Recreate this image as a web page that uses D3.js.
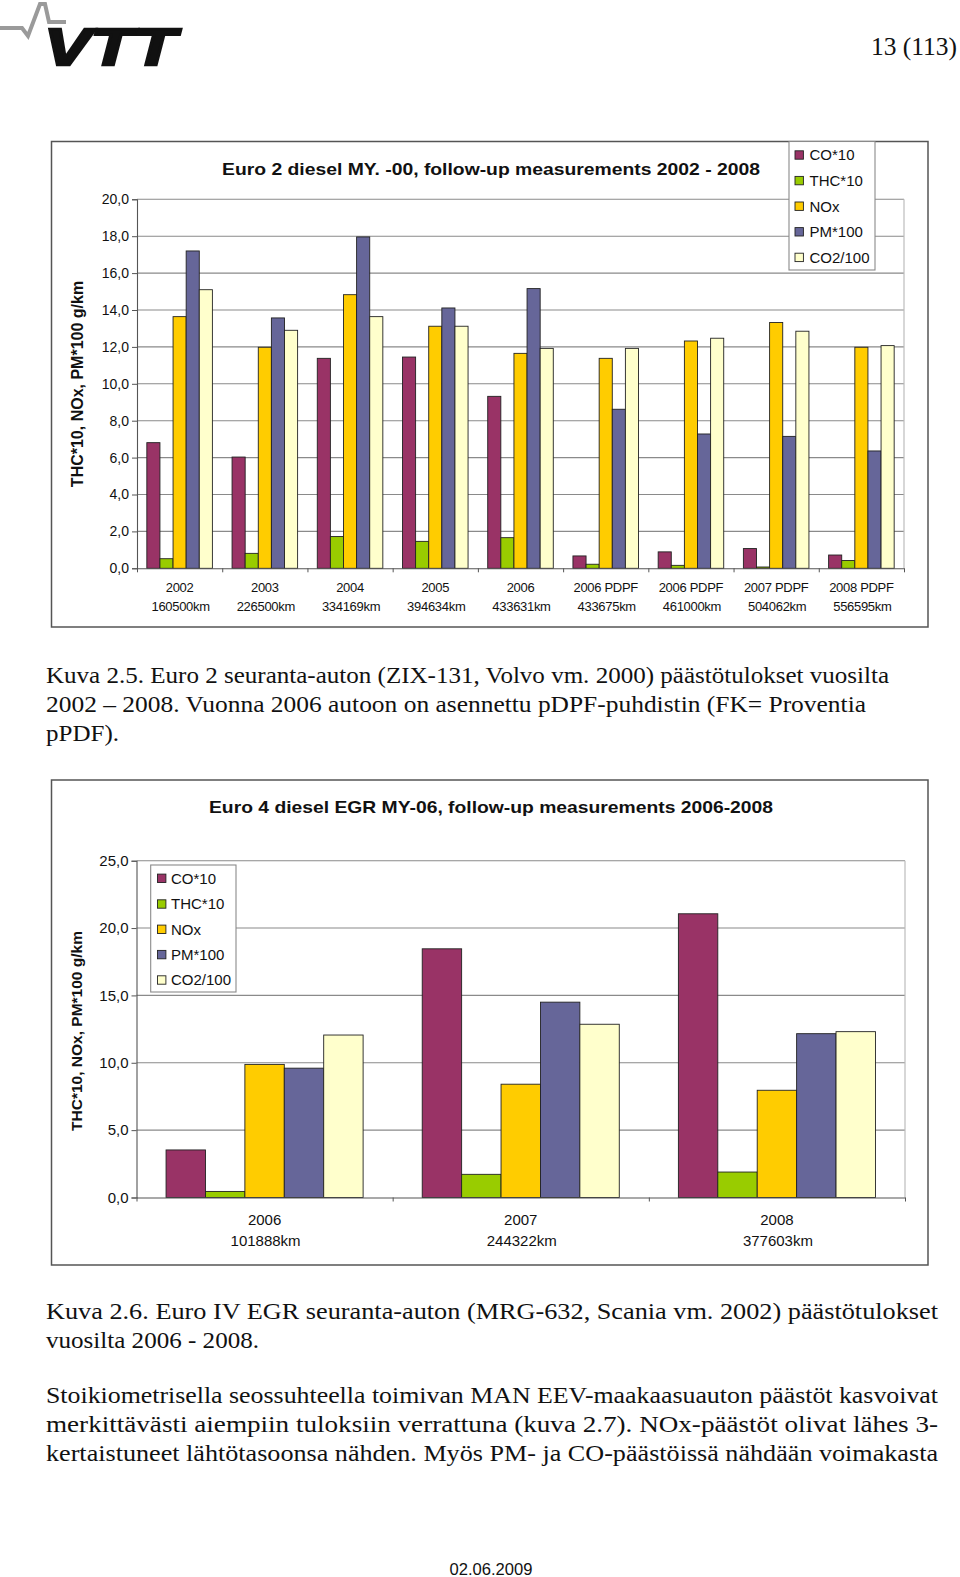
<!DOCTYPE html>
<html><head><meta charset="utf-8">
<script src="https://cdn.jsdelivr.net/npm/d3@7"></script>
<style>body{margin:0;background:#fff}svg{display:block}</style>
</head><body>
<svg id="page" width="960" height="1577"></svg>
<script>
// ---------- data ----------
const seriesNames = ["CO*10", "THC*10", "NOx", "PM*100", "CO2/100"];
const seriesColors = ["#993366", "#99CC00", "#FFCC00", "#666699", "#FFFFCC"];

const cats1Year = ["2002", "2003", "2004", "2005", "2006", "2006 PDPF", "2006 PDPF", "2007 PDPF", "2008 PDPF"];
const cats1Km = ["160500km", "226500km", "334169km", "394634km", "433631km", "433675km", "461000km", "504062km", "556595km"];
const co1 = [6.81, 6.03, 11.38, 11.45, 9.32, 0.67, 0.89, 1.07, 0.72];
const thc1 = [0.52, 0.81, 1.72, 1.46, 1.66, 0.22, 0.16, 0.07, 0.42];
const nox1 = [13.64, 11.98, 14.83, 13.12, 11.65, 11.38, 12.32, 13.32, 11.98];
const pm1 = [17.2, 13.57, 17.96, 14.11, 15.16, 8.62, 7.28, 7.15, 6.36];
const co2_1 = [15.1, 12.9, 13.64, 13.12, 11.92, 11.92, 12.47, 12.85, 12.07];
const ticks1 = [0, 2, 4, 6, 8, 10, 12, 14, 16, 18, 20];

const cats2Year = ["2006", "2007", "2008"];
const cats2Km = ["101888km", "244322km", "377603km"];
const co2chart = [3.53, 18.46, 21.06];
const thc2 = [0.45, 1.72, 1.89];
const nox2 = [9.88, 8.41, 7.96];
const pm2 = [9.6, 14.5, 12.16];
const co2_2 = [12.06, 12.86, 12.31];
const ticks2 = [0, 5, 10, 15, 20, 25];

const title1 = "Euro 2 diesel MY. -00, follow-up measurements 2002 - 2008";
const title2 = "Euro 4 diesel EGR MY-06, follow-up measurements 2006-2008";
const yTitle = "THC*10, NOx, PM*100 g/km";

const svg = d3.select("#page");
const SANS = "'Liberation Sans', Arial, Helvetica, sans-serif";
const SERIF = "'Liberation Serif', 'Times New Roman', Times, serif";
const fmt = v => d3.format(".1f")(v).replace(".", ",");

function drawChart(o) {
  const g = svg.append("g");
  g.append("rect").attr("x", o.frame[0]).attr("y", o.frame[1])
    .attr("width", o.frame[2] - o.frame[0]).attr("height", o.frame[3] - o.frame[1])
    .attr("fill", "#fff").attr("stroke", "#555").attr("stroke-width", 1.5);

  const x0 = d3.scaleBand().domain(d3.range(o.years.length)).range([o.left, o.right]).paddingInner(0).paddingOuter(0);
  const x1 = d3.scaleBand().domain(d3.range(seriesNames.length)).range([0, x0.bandwidth()]).paddingInner(0).paddingOuter(0.75);
  const y = d3.scaleLinear().domain([0, o.ymax]).range([o.bottom, o.top]);

  g.append("g").selectAll("line").data(o.ticks.filter(t => t > 0)).join("line")
    .attr("x1", o.left).attr("x2", o.right)
    .attr("y1", d => y(d)).attr("y2", d => y(d))
    .attr("stroke", "#8a8a8a").attr("stroke-width", 1.1);
  g.append("line").attr("x1", o.right).attr("x2", o.right).attr("y1", o.top).attr("y2", o.bottom)
    .attr("stroke", "#bdbdbd").attr("stroke-width", 1.2);

  const values = o.values;
  const groups = g.append("g").selectAll("g").data(o.years.map((d, i) => i)).join("g")
    .attr("transform", i => `translate(${x0(i)},0)`);
  groups.selectAll("rect").data(i => values.map((s, k) => ({k, v: s[i]}))).join("rect")
    .attr("x", d => x1(d.k)).attr("width", x1.bandwidth())
    .attr("y", d => y(d.v)).attr("height", d => y(0) - y(d.v))
    .attr("fill", d => seriesColors[d.k]).attr("stroke", "#222").attr("stroke-width", 0.9);

  const ya = g.append("g").attr("transform", `translate(${o.left},0)`)
    .call(d3.axisLeft(y).tickValues(o.ticks).tickFormat(fmt).tickSize(5).tickPadding(3));
  ya.select(".domain").attr("stroke", "#555").attr("stroke-width", 1.1);
  ya.selectAll(".tick line").attr("stroke", "#555");
  ya.selectAll("text").attr("font-family", SANS).attr("font-size", o.tickFont).attr("fill", "#111");

  const xa = g.append("g").attr("transform", `translate(0,${o.bottom})`)
    .call(d3.axisBottom(d3.scaleLinear().domain([0, o.years.length]).range([o.left, o.right]))
      .tickValues(d3.range(o.years.length + 1)).tickFormat("").tickSize(4).tickSizeOuter(0));
  xa.select(".domain").attr("stroke", "#555").attr("stroke-width", 1.1);
  xa.selectAll(".tick line").attr("stroke", "#555");

  const lbl = g.append("g").selectAll("text").data(o.years.map((d, i) => i)).join("text")
    .attr("font-family", SANS).attr("font-size", o.xFont).attr("fill", "#111")
    .attr("text-anchor", "middle").attr("letter-spacing", o.xLs || 0);
  lbl.append("tspan").attr("x", i => x0(i) + x0.bandwidth() / 2).attr("y", o.xl1).text(i => o.years[i]);
  lbl.append("tspan").attr("x", i => x0(i) + x0.bandwidth() / 2 + 1).attr("y", o.xl2).text(i => o.kms[i]);

  g.append("text").attr("x", o.titleX).attr("y", o.titleY).attr("text-anchor", "middle")
    .attr("font-family", SANS).attr("font-weight", "bold").attr("font-size", 17).attr("fill", "#111")
    .attr("textLength", o.titleW).attr("lengthAdjust", "spacingAndGlyphs").text(o.title);
  g.append("text").attr("transform", `translate(${o.ytX},${o.ytY}) rotate(-90)`).attr("text-anchor", "middle")
    .attr("font-family", SANS).attr("font-weight", "bold").attr("font-size", o.ytFont).attr("fill", "#111")
    .text(yTitle);

  const L = o.legend;
  g.append("rect").attr("x", L.x0).attr("y", L.y0).attr("width", L.x1 - L.x0).attr("height", L.y1 - L.y0)
    .attr("fill", "#fff").attr("stroke", "#8a8a8a").attr("stroke-width", 1.1);
  const li = g.append("g").selectAll("g").data(seriesNames).join("g")
    .attr("transform", (d, i) => `translate(${L.sx},${L.cy[i]})`);
  li.append("rect").attr("x", 0).attr("y", -4.2).attr("width", 8.4).attr("height", 8.4)
    .attr("fill", (d, i) => seriesColors[i]).attr("stroke", "#222").attr("stroke-width", 0.9);
  li.append("text").attr("x", L.tx - L.sx).attr("y", 0).attr("dy", "0.36em")
    .attr("font-family", SANS).attr("font-size", 15).attr("fill", "#111").text(d => d);
}

drawChart({
  frame: [51.5, 141.5, 928, 627],
  left: 137, right: 904, top: 199.3, bottom: 568.3, ymax: 20,
  ticks: ticks1, tickFont: 14, xFont: 13, xLs: -0.3, xl1: 592, xl2: 611,
  years: cats1Year, kms: cats1Km,
  values: [co1, thc1, nox1, pm1, co2_1],
  title: title1, titleX: 491, titleY: 175, titleW: 538,
  ytX: 83, ytY: 384, ytFont: 16,
  legend: {x0: 789, x1: 875, y0: 141.5, y1: 270, sx: 795, tx: 809.5, cy: [155, 180.6, 206.2, 231.8, 257.4]}
});

drawChart({
  frame: [51.5, 780, 928, 1265],
  left: 136.5, right: 905, top: 860.7, bottom: 1197.5, ymax: 25,
  ticks: ticks2, tickFont: 15, xFont: 15, xLs: 0, xl1: 1225, xl2: 1246,
  years: cats2Year, kms: cats2Km,
  values: [co2chart, thc2, nox2, pm2, co2_2],
  title: title2, titleX: 491, titleY: 813, titleW: 564,
  ytX: 82, ytY: 1031, ytFont: 15.5,
  legend: {x0: 150.7, x1: 236, y0: 865, y1: 992, sx: 157.5, tx: 171, cy: [878.3, 904, 929.3, 954.6, 980]}
});

// ---------- page text ----------
function line(txt, x, yb, w, size) {
  const t = svg.append("text").attr("x", x).attr("y", yb)
    .attr("font-family", SERIF).attr("font-size", size || 24).attr("fill", "#111").text(txt);
  if (w) t.attr("textLength", w).attr("lengthAdjust", "spacingAndGlyphs");
  return t;
}
line("Kuva 2.5. Euro 2 seuranta-auton (ZIX-131, Volvo vm. 2000) päästötulokset vuosilta", 46, 683, 843);
line("2002 – 2008. Vuonna 2006 autoon on asennettu pDPF-puhdistin (FK= Proventia", 46, 712, 820);
line("pPDF).", 46, 741, 73);
line("Kuva 2.6. Euro IV EGR seuranta-auton (MRG-632, Scania vm. 2002) päästötulokset", 46, 1319, 892);
line("vuosilta 2006 - 2008.", 46, 1348, 213);
line("Stoikiometrisella seossuhteella toimivan MAN EEV-maakaasuauton päästöt kasvoivat", 46, 1403, 892);
line("merkittävästi aiempiin tuloksiin verrattuna (kuva 2.7). NOx-päästöt olivat lähes 3-", 46, 1432, 892);
line("kertaistuneet lähtötasoonsa nähden. Myös PM- ja CO-päästöissä nähdään voimakasta", 46, 1461, 892);

line("13 (113)", 871, 55, 86, 25);

svg.append("text").attr("x", 491).attr("y", 1575).attr("text-anchor", "middle")
  .attr("font-family", SANS).attr("font-size", 16).attr("fill", "#111")
  .attr("textLength", 83).attr("lengthAdjust", "spacingAndGlyphs").text("02.06.2009");

// logo
svg.append("polyline").attr("points", "0,28 22,28 28,36 40,4 45,4 49,22 66,22")
  .attr("fill", "none").attr("stroke", "#9a9a9a").attr("stroke-width", 4).attr("stroke-linejoin", "miter");
svg.append("text").attr("x", 44).attr("y", 65)
  .attr("font-family", SANS).attr("font-weight", "bold").attr("font-style", "italic")
  .attr("font-size", 51).attr("fill", "#111").attr("stroke", "#111").attr("stroke-width", 2.5)
  .attr("textLength", 132).attr("lengthAdjust", "spacingAndGlyphs").text("VTT");
</script>
</body></html>
